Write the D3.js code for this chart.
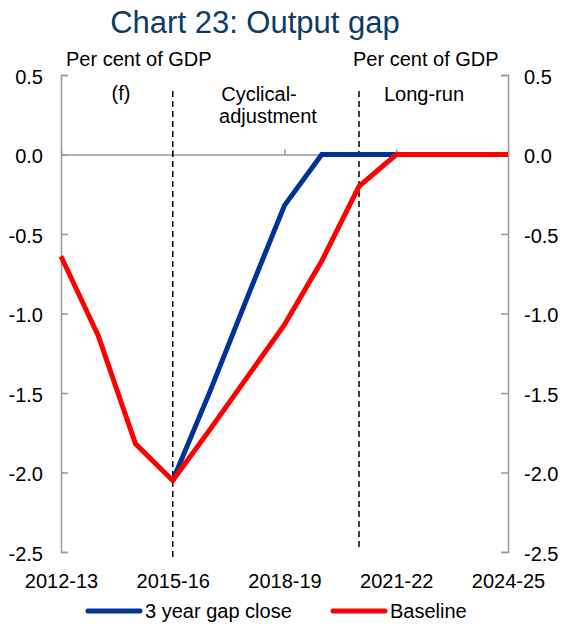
<!DOCTYPE html>
<html>
<head>
<meta charset="utf-8">
<script src="https://cdn.jsdelivr.net/npm/d3@7"></script>
<style>
  body { margin: 0; background: #fff; }
  svg text { font-family: "Liberation Sans", Arial, sans-serif; }
</style>
</head>
<body>
<div id="chart"></div>
<script>
// chart data
const years = ["2012-13", "2013-14", "2014-15", "2015-16", "2016-17", "2017-18", "2018-19",
               "2019-20", "2020-21", "2021-22", "2022-23", "2023-24", "2024-25"];
const gapClose = [null, null, null, -2.05, -1.49, -0.90, -0.32, 0, 0, 0, 0, 0, 0];
const baseline = [-0.64, -1.14, -1.82, -2.05, -1.73, -1.40, -1.07, -0.67, -0.20, 0, 0, 0, 0];
const yTicks = [0.5, 0.0, -0.5, -1.0, -1.5, -2.0, -2.5];
const xTickLabels = ["2012-13", "2015-16", "2018-19", "2021-22", "2024-25"];
const markerYears = ["2015-16", "2020-21"];

const width = 564;
const height = 624;
const margin = {left: 61, right: 56, top: 75, bottom: 72};

const svg = d3.select("#chart")
  .append("svg")
  .attr("width", width)
  .attr("height", height);

// scales
const x = d3.scalePoint()
  .domain(years)
  .range([margin.left, width - margin.right]);

const y = d3.scaleLinear()
  .domain([-2.5, 0.5])
  .range([height - margin.bottom, margin.top]);

// plain hyphen for negatives, like the original
const fmt = d => d.toFixed(1);

// title
svg.append("text")
  .attr("x", 255)
  .attr("y", 33)
  .attr("text-anchor", "middle")
  .attr("font-size", "31px")
  .attr("fill", "#0d3c64")
  .text("Chart 23: Output gap");

// left axis, ticks point inward
const yLeft = svg.append("g")
  .attr("transform", `translate(${margin.left},0)`)
  .call(d3.axisLeft(y).tickValues(yTicks).tickSize(-7).tickPadding(18).tickFormat(fmt));

// right axis
const yRight = svg.append("g")
  .attr("transform", `translate(${width - margin.right},0)`)
  .call(d3.axisRight(y).tickValues(yTicks).tickSize(-7).tickPadding(16).tickFormat(fmt));

[yLeft, yRight].forEach(g => {
  g.selectAll("path, line").attr("stroke", "#999").attr("stroke-width", 1.5);
  g.selectAll("text").attr("font-size", "20px").attr("fill", "#000").attr("dy", "0.4em");
});

// zero line with small ticks pointing up
const xZero = svg.append("g")
  .attr("transform", `translate(0,${y(0)})`)
  .call(d3.axisBottom(x).tickValues(xTickLabels).tickSize(-5).tickSizeOuter(0).tickFormat(""));
xZero.selectAll("path, line").attr("stroke", "#999").attr("stroke-width", 1.5);

// category labels along the bottom
const xLabels = svg.append("g")
  .attr("transform", `translate(0,${height - margin.bottom})`)
  .call(d3.axisBottom(x).tickValues(xTickLabels).tickSize(0).tickPadding(22));
xLabels.select(".domain").remove();
xLabels.selectAll("text").attr("font-size", "20px").attr("fill", "#000");

// dashed period markers
svg.selectAll(".marker")
  .data(markerYears)
  .enter()
  .append("line")
  .attr("class", "marker")
  .attr("x1", d => x(d))
  .attr("x2", d => x(d))
  .attr("y1", y(0.4))
  .attr("y2", (d, i) => i === 0 ? y(-2.54) : y(-2.47))
  .attr("stroke", "#000")
  .attr("stroke-width", 1.5)
  .attr("stroke-dasharray", "6,4");

// annotations
const notes = [
  {t: "Per cent of GDP", x: 66, y: 66, a: "start"},
  {t: "Per cent of GDP", x: 353, y: 66, a: "start"},
  {t: "(f)", x: 121, y: 100, a: "middle"},
  {t: "Cyclical-", x: 259, y: 101, a: "middle"},
  {t: "adjustment", x: 268, y: 123, a: "middle"},
  {t: "Long-run", x: 424, y: 101, a: "middle"}
];
svg.selectAll(".note")
  .data(notes)
  .enter()
  .append("text")
  .attr("class", "note")
  .attr("x", d => d.x)
  .attr("y", d => d.y)
  .attr("text-anchor", d => d.a)
  .attr("font-size", "20px")
  .text(d => d.t);

// lines
const line = d3.line()
  .defined(d => d[1] !== null)
  .x(d => x(d[0]))
  .y(d => y(d[1]));

svg.append("path")
  .datum(years.map((yr, i) => [yr, gapClose[i]]))
  .attr("fill", "none")
  .attr("stroke", "#003399")
  .attr("stroke-width", 5)
  .attr("d", line);

svg.append("path")
  .datum(years.map((yr, i) => [yr, baseline[i]]))
  .attr("fill", "none")
  .attr("stroke", "#ff0000")
  .attr("stroke-width", 5)
  .attr("d", line);

// legend
const legend = [
  {name: "3 year gap close", color: "#003399", x: 88},
  {name: "Baseline", color: "#ff0000", x: 333}
];
const lg = svg.selectAll(".legend")
  .data(legend)
  .enter()
  .append("g")
  .attr("class", "legend")
  .attr("transform", d => `translate(${d.x},611)`);
lg.append("line")
  .attr("x1", 0).attr("x2", 52)
  .attr("stroke", d => d.color)
  .attr("stroke-width", 5)
  .attr("stroke-linecap", "round");
lg.append("text")
  .attr("x", 57)
  .attr("dy", "0.35em")
  .attr("font-size", "20px")
  .text(d => d.name);
</script>
</body>
</html>
